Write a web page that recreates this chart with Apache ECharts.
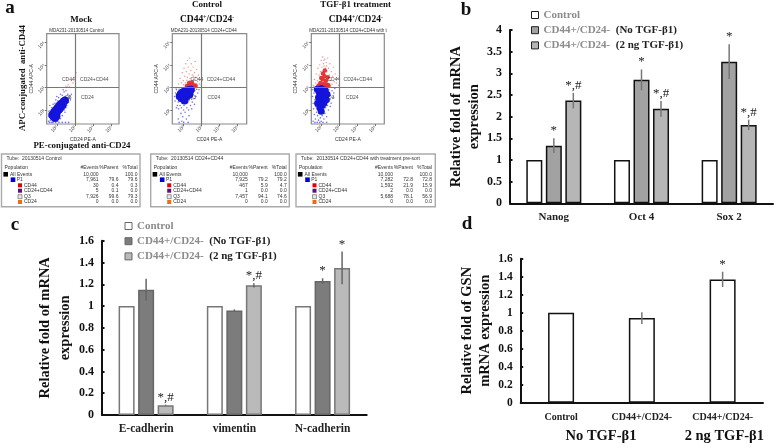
<!DOCTYPE html>
<html>
<head>
<meta charset="utf-8">
<style>
html, body { margin: 0; padding: 0; background: #fff; }
#main { width: 778px; height: 448px; }
</style>
<script src="https://cdn.jsdelivr.net/npm/echarts@6/dist/echarts.min.js"></script>
</head>
<body>
<div id="main"></div>
<script>
// panel b
const stemGenes = ['Nanog', 'Oct 4', 'Sox 2'];
const stemControl = [1, 1, 1];
const stemNoTgf = [1.33, 2.85, 3.27];
const stemTgf = [2.37, 2.18, 1.81];
const stemNoTgfErr = [0.17, 0.24, 0.4];
const stemTgfErr = [0.18, 0.18, 0.12];
const stemNoTgfMark = ['*', '*', '*'];
const stemTgfMark = ['*,#', '*,#', '*,#'];

// panel c
const emtGenes = ['E-cadherin', 'vimentin', 'N-cadherin'];
const emtControl = [1, 1, 1];
const emtNoTgf = [1.15, 0.96, 1.23];
const emtTgf = [0.09, 1.19, 1.35];
const emtNoTgfErr = [0.1, 0.01, 0.025];
const emtTgfErr = [0.005, 0.02, 0.15];
const emtNoTgfMark = ['', '', '*'];
const emtTgfMark = ['*,#', '*,#', '*'];

// panel d
const gsnGroups = ['Control', 'CD44+/CD24-', 'CD44+/CD24-'];
const gsnValues = [1, 0.94, 1.37];
const gsnErr = [0, 0.065, 0.085];
const gsnMark = ['', '', '*'];

const legendNames = ['Control', 'CD44+/CD24-  (No TGF-β1)', 'CD44+/CD24-  (2 ng TGF-β1)'];

// panel a, flow plots, read by eye (log10 units)
const plotTitles = ['MDA231-20130514 Control', 'MDA231-20130514 CD24+CD44', 'MDA231-20130514 CD24+CD44 with t'];
const decades = [2, 3, 4, 5];
const decadeLabels = ['10²', '10³', '10⁴', '10⁵'];
const gateLabels = [
  [[2.63, 3.36, 'CD44'], [4.05, 3.36, 'CD24+CD44'], [2.63, 2.55, 'Q3'], [3.67, 2.55, 'CD24']],
  [[2.74, 3.36, 'CD44'], [4.07, 3.36, 'CD24+CD44'], [2.5, 2.55, 'Q3'], [3.68, 2.55, 'CD24']],
  [[2.7, 3.36, 'CD44'], [4.03, 3.36, 'CD24+CD44'], [2.55, 2.55, 'Q3'], [3.72, 2.55, 'CD24']]
];
const mockCore = [[1.75,1.78],[1.82,1.72],[1.85,1.9],[1.92,1.8],[1.95,2.0],[2.02,1.92],[2.05,2.1],[2.12,2.02],[2.15,2.2],[2.22,2.12],[2.25,2.28],[2.32,2.22],[2.36,2.36],[2.45,2.42],[1.9,1.65],[1.98,1.72]];
const mockSparse = [[1.55,1.5],[1.6,1.7],[1.58,1.95],[1.65,1.55],[1.7,1.45],[1.72,2.1],[1.75,1.6],[1.8,2.25],[1.85,1.48],[1.9,1.55],[1.7,1.85],[1.62,2.2],[1.95,2.45],[2.0,1.6],[2.05,1.5],[2.1,1.7],[2.15,1.8],[2.2,1.62],[2.25,1.9],[1.9,2.3],[2.0,2.6],[2.05,2.4],[2.1,2.55],[2.2,2.7],[2.25,2.5],[2.3,1.95],[2.35,2.05],[2.4,2.0],[2.3,2.65],[2.4,2.8],[2.45,2.6],[2.5,2.1],[2.55,2.2],[2.6,2.7],[2.65,2.35],[2.7,2.55],[2.75,2.45],[2.5,2.85],[2.8,2.7],[2.35,2.9],[2.6,2.5],[2.55,2.4],[2.68,2.62],[2.15,2.35],[1.8,2.05],[1.68,1.62],[2.3,1.75],[2.45,1.9],[1.6,1.45],[1.78,1.45],[1.95,1.45],[2.12,1.45],[2.3,1.45],[2.48,1.45],[2.65,1.45]];
const mockRed = [[2.5,3.05],[2.62,3.12],[2.7,3.02],[2.8,3.3],[2.88,3.2],[2.95,3.45],[3.05,3.65],[2.6,3.02]];

const ctrlCore = [[1.78,2.62],[1.85,2.72],[1.88,2.52],[1.95,2.65],[1.98,2.8],[2.03,2.55],[2.08,2.7],[2.12,2.85],[2.15,2.6],[2.2,2.75],[2.27,2.87],[2.32,2.7],[2.4,2.9],[2.05,2.42]];
const ctrlSparse = [[1.5,2.6],[1.55,2.75],[1.52,2.4],[1.6,2.9],[1.62,2.5],[1.65,2.2],[1.7,2.35],[1.72,2.05],[1.75,2.92],[1.8,2.2],[1.85,1.85],[1.88,2.1],[1.92,2.3],[1.95,1.7],[2.0,2.0],[2.02,2.2],[2.08,1.9],[2.1,2.3],[2.15,1.6],[2.18,2.1],[2.22,2.35],[2.28,2.0],[2.32,2.45],[2.38,2.2],[2.42,2.55],[2.48,2.35],[2.52,2.7],[2.58,2.5],[2.62,2.85],[2.68,2.6],[2.72,2.92],[2.78,2.75],[2.85,2.9],[1.9,1.5],[2.3,1.75],[1.6,2.1],[2.45,2.05],[1.7,1.6],[2.0,1.45],[1.75,1.45],[2.25,1.45],[1.58,2.98],[2.6,2.25]];
const ctrlRedDense = [[2.18,3.06],[2.26,3.03],[2.34,3.1],[2.42,3.05],[2.5,3.12],[2.58,3.04],[2.3,3.2],[2.46,3.22],[2.66,3.08]];
const ctrlRed = [[1.72,3.15],[1.8,3.4],[1.88,3.2],[1.92,3.65],[1.98,3.3],[2.02,3.85],[2.05,3.5],[2.1,3.2],[2.12,4.05],[2.15,3.7],[2.2,3.45],[2.22,4.2],[2.25,3.9],[2.3,3.6],[2.33,4.3],[2.36,3.4],[2.4,3.75],[2.42,4.05],[2.48,3.55],[2.52,3.9],[2.55,3.35],[2.6,3.65],[2.64,4.15],[2.68,3.45],[2.72,3.8],[2.78,3.25],[2.82,3.55],[2.88,3.15],[2.92,3.35],[2.98,3.1],[2.35,3.3],[2.18,3.32],[2.0,3.12],[2.55,3.5],[2.75,3.05]];

const tgfCore = [[1.8,2.3],[1.85,2.55],[1.88,2.8],[1.92,2.1],[1.95,2.4],[1.98,2.65],[2.0,2.95],[2.05,2.2],[2.07,2.5],[2.1,2.75],[2.15,2.3],[2.18,2.58],[2.22,2.88],[2.28,2.45],[2.32,2.7],[2.0,1.95],[1.78,2.92]];
const tgfSparse = [[1.5,2.9],[1.52,2.6],[1.55,2.3],[1.58,2.05],[1.6,2.75],[1.62,1.8],[1.65,2.45],[1.68,1.6],[1.7,2.15],[1.72,2.9],[1.74,1.9],[1.78,1.45],[1.8,1.75],[1.85,1.55],[1.9,1.85],[1.95,1.65],[2.0,1.5],[2.05,1.75],[2.1,1.95],[2.15,1.6],[2.2,1.85],[2.25,2.1],[2.3,1.7],[2.35,2.2],[2.4,2.0],[2.45,2.4],[2.5,2.65],[2.55,2.3],[2.6,2.85],[2.65,2.55],[2.7,2.75],[2.75,2.95],[2.42,2.9],[2.5,2.15],[1.55,1.5],[1.65,1.45],[2.3,1.45],[2.1,1.45],[1.92,1.45]];
const tgfRedDense = [[1.85,3.08],[1.95,3.2],[2.02,3.06],[2.08,3.35],[2.14,3.15],[2.18,3.5],[2.22,3.05],[2.26,3.3],[2.32,3.12],[2.1,3.62],[2.2,3.75],[2.36,3.45],[2.4,3.1],[2.0,3.42]];
const tgfRed = [[1.55,3.1],[1.62,3.35],[1.68,3.2],[1.72,3.6],[1.78,3.3],[1.82,3.85],[1.88,3.55],[1.92,4.0],[1.96,3.7],[2.0,4.2],[2.04,3.9],[2.08,4.35],[2.12,4.05],[2.16,3.95],[2.2,4.25],[2.24,3.85],[2.28,4.1],[2.32,3.7],[2.36,4.3],[2.4,3.85],[2.44,3.55],[2.48,4.05],[2.52,3.3],[2.56,3.7],[2.6,3.15],[2.64,3.5],[2.68,3.9],[2.72,3.25],[2.78,3.6],[2.84,3.2],[2.9,3.4],[2.95,3.1],[1.6,3.05],[1.75,3.08],[2.5,3.05],[2.3,3.95],[2.14,4.2],[1.9,3.25]];

// panel a, statistics tables
const tableTitles = ['Tube:  20130514 Control', 'Tube:  20130514 CD24+CD44', 'Tube:  20130514 CD24+CD44 with treatment pre-sort'];
const tableHeader = ['Population', '#Events', '%Parent', '%Total'];
const rowNames = ['All Events', 'P1', 'CD44', 'CD24+CD44', 'Q3', 'CD24'];
const rowColors = ['#000000', '#0000e0', '#e00000', '#6a0a78', '#e8e8e8', '#f06a10'];
const tableRows = [
  [['10,000', '', '100.0'], ['7,961', '79.6', '79.6'], ['30', '0.4', '0.3'], ['5', '0.1', '0.0'], ['7,926', '99.6', '79.3'], ['0', '0.0', '0.0']],
  [['10,000', '', '100.0'], ['7,925', '79.2', '79.2'], ['467', '5.9', '4.7'], ['1', '0.0', '0.0'], ['7,457', '94.1', '74.6'], ['0', '0.0', '0.0']],
  [['10,000', '', '100.0'], ['7,282', '72.8', '72.8'], ['1,592', '21.9', '15.9'], ['2', '0.0', '0.0'], ['5,688', '78.1', '56.9'], ['0', '0.0', '0.0']]
];

const serif = '"Liberation Serif", "Times New Roman", serif';
const sans = '"Liberation Sans", Arial, sans-serif';
const flowBlue = '#1414dc';
const flowRed = '#e23030';

const grids = [];
const xAxes = [];
const yAxes = [];
const series = [];

// flow cytometry plots, grid 0-2
const flowBoxes = [
  { left: 46.7, width: 72.3, xMin: 1.45, xMax: 5.4, title: 76.7 },
  { left: 172.3, width: 74.4, xMin: 1.37, xMax: 5.5, title: 203.7 },
  { left: 311.3, width: 73, xMin: 1.45, xMax: 5.5, title: 348 }
];
const flowData = [
  { sparse: mockSparse, core: mockCore, red: mockRed, redDense: [] },
  { sparse: ctrlSparse, core: ctrlCore, red: ctrlRed, redDense: ctrlRedDense },
  { sparse: tgfSparse, core: tgfCore, red: tgfRed, redDense: tgfRedDense }
];
flowBoxes.forEach((b, i) => {
  grids.push({ left: b.left, top: 33.7, width: b.width, height: 90.3, show: true, borderColor: '#8a8a8a', borderWidth: 1.2, backgroundColor: '#fff' });
  const flowAxis = (min, max, name, gap) => ({
    type: 'value', gridIndex: i, min: min, max: max, name: name, nameLocation: 'middle', nameGap: gap,
    nameTextStyle: { fontSize: 5, fontFamily: sans, color: '#333' },
    axisLine: { show: false },
    axisTick: { customValues: decades, length: 2, lineStyle: { color: '#555', width: 0.8 } },
    axisLabel: {
      customValues: decades, rotate: 45, fontSize: 5, fontFamily: sans, color: '#444', margin: 2.5,
      formatter: v => decadeLabels[decades.indexOf(v)]
    },
    splitLine: { show: false }
  });
  xAxes.push(flowAxis(b.xMin, b.xMax, 'CD24 PE-A', 8));
  yAxes.push(flowAxis(1.38, 5.38, 'CD44 APC-A', 11));
  const dots = (data, color, size, op) => ({
    type: 'scatter', xAxisIndex: i, yAxisIndex: i, data: data, symbolSize: size, silent: true,
    itemStyle: { color: color, opacity: op }
  });
  const d = flowData[i];
  series.push(dots(d.sparse, flowBlue, 1.6, 0.6));
  series.push(dots(d.red, flowRed, 1.4, 0.55));
  series.push(dots(d.redDense, flowRed, 4.5, 0.95));
  series.push(dots(d.core, flowBlue, i === 2 ? 7 : 8, 1));
  series.push({
    type: 'scatter', xAxisIndex: i, yAxisIndex: i, data: gateLabels[i], symbolSize: 0, silent: true,
    label: { show: true, position: 'inside', formatter: p => p.value[2], fontSize: 5, fontFamily: sans, color: '#222' },
    markLine: {
      silent: true, symbol: 'none', label: { show: false },
      lineStyle: { color: '#777', width: 1.2, type: 'solid' },
      data: [{ xAxis: 3 }, { yAxis: 3 }], animation: false
    }
  });
});

// error bars and significance marks drawn at the bar's offset within its group
function errorSeries(gridIdx, values, errs, marks, offset, color, markSize) {
  return {
    type: 'custom', xAxisIndex: gridIdx, yAxisIndex: gridIdx, z: 5, silent: true, clip: false,
    data: values.map((v, i) => [i, v, errs[i], marks[i]]),
    renderItem: (params, api) => {
      const idx = api.value(0);
      const v = api.value(1);
      const e = api.value(2);
      const top = api.coord([idx, v + e]);
      const bot = api.coord([idx, v - e]);
      const x = top[0] + offset;
      const mark = marks[idx];
      const kids = [];
      if (e > 0) {
        kids.push({ type: 'line', shape: { x1: x, y1: top[1], x2: x, y2: bot[1] }, style: { stroke: color, lineWidth: 1.5 } });
      }
      if (mark) {
        kids.push({ type: 'text', style: { text: mark, x: x, y: top[1] - 1, textAlign: 'center', textVerticalAlign: 'bottom', font: markSize + 'px ' + serif, fill: '#222' } });
      }
      return { type: 'group', children: kids };
    }
  };
}

function barAxes(left, top, width, height, cats, yMax, step, title, gap, nameLine, labelSize, labelMargin, tickSize) {
  const idx = grids.length;
  grids.push({ left: left, top: top, width: width, height: height });
  xAxes.push({
    type: 'category', gridIndex: idx, data: cats,
    axisLine: { lineStyle: { color: '#111', width: 2 } },
    axisTick: { inside: true, length: 2.5, lineStyle: { color: '#111', width: 2 } },
    axisLabel: { interval: 0, fontFamily: serif, fontWeight: 'bold', fontSize: labelSize, color: '#222', margin: labelMargin }
  });
  yAxes.push({
    type: 'value', gridIndex: idx, min: 0, max: yMax, interval: step, name: title, nameLocation: 'middle', nameGap: gap,
    nameTextStyle: { fontFamily: serif, fontWeight: 'bold', fontSize: 14.5, color: '#111', lineHeight: nameLine },
    axisLine: { show: true, lineStyle: { color: '#111', width: 2 } },
    axisTick: { show: true, inside: true, length: 2.5, lineStyle: { color: '#111', width: 2 } },
    axisLabel: { fontFamily: serif, fontWeight: 'bold', fontSize: tickSize, color: '#111', margin: 8 },
    splitLine: { show: false }
  });
  return idx;
}

function barSeries(idx, name, values, fill, border, width) {
  return {
    type: 'bar', name: name, xAxisIndex: idx, yAxisIndex: idx, data: values, barWidth: width, barGap: '22%',
    itemStyle: { color: fill, borderColor: border, borderWidth: 1.5 }, silent: true
  };
}

// panel b
const bIdx = barAxes(510, 30, 263, 173.3, stemGenes, 4, 0.5, 'Relative fold of mRNA\nexpression', 20, 18, 11, 8, 12);
series.push(barSeries(bIdx, legendNames[0], stemControl, '#fff', '#111', 16));
series.push(barSeries(bIdx, legendNames[1], stemNoTgf, '#a2a2a2', '#111', 16));
series.push(barSeries(bIdx, legendNames[2], stemTgf, '#b6b6b6', '#111', 16));
series.push(errorSeries(bIdx, stemNoTgf, stemNoTgfErr, stemNoTgfMark, 0, '#777', 13));
series.push(errorSeries(bIdx, stemTgf, stemTgfErr, stemTgfMark, 19.5, '#777', 13));

// panel c
const cIdx = barAxes(102, 240.7, 264.7, 174.3, emtGenes, 1.6, 0.2, 'Relative fold of mRNA\nexpression', 20, 20, 11.5, 8, 12);
series.push(barSeries(cIdx, legendNames[0], emtControl, '#fff', '#777', 16));
series.push(barSeries(cIdx, legendNames[1], emtNoTgf, '#7c7c7c', '#666', 16));
series.push(barSeries(cIdx, legendNames[2], emtTgf, '#bababa', '#777', 16));
series.push(errorSeries(cIdx, emtNoTgf, emtNoTgfErr, emtNoTgfMark, 0, '#666', 13));
series.push(errorSeries(cIdx, emtTgf, emtTgfErr, emtTgfMark, 19.5, '#666', 13));

// panel d
const dIdx = barAxes(520.7, 258.7, 242.3, 144, gsnGroups, 1.6, 0.2, 'Relative fold of GSN\nmRNA expression', 22, 18, 10, 10, 11.5);
series.push(barSeries(dIdx, 'GSN', gsnValues, '#fff', '#111', 26));
series.push(errorSeries(dIdx, gsnValues, gsnErr, gsnMark, 0, '#777', 13));

function legendFor(left, top, fills, border) {
  return {
    orient: 'vertical', left: left, top: top, padding: 0, itemWidth: 7, itemHeight: 7, itemGap: 4.2, icon: 'rect',
    selectedMode: false,
    data: legendNames.map((n, i) => ({ name: n, itemStyle: { color: fills[i], borderColor: border, borderWidth: 1 } })),
    formatter: n => {
      const cut = n.indexOf('(');
      if (cut < 0) return '{g|' + n + '}';
      return '{g|' + n.slice(0, cut) + '}{k|' + n.slice(cut) + '}';
    },
    textStyle: {
      rich: {
        g: { fontFamily: serif, fontWeight: 'bold', fontSize: 11, color: '#8c8c8c' },
        k: { fontFamily: serif, fontWeight: 'bold', fontSize: 11, color: '#222' }
      }
    }
  };
}

// free text and the three statistics boxes of panel a
const graphic = [];
function txt(x, y, text, font, extra) {
  graphic.push(Object.assign({
    type: 'text', x: x, y: y, silent: true,
    style: Object.assign({ text: text, font: font, fill: '#111', textAlign: 'center', textVerticalAlign: 'middle' }, (extra && extra.style) || {})
  }, extra && extra.rotation ? { rotation: extra.rotation } : {}));
}
const headBold = 'bold 9px ' + serif;
const supRich = {
  n: { fontFamily: serif, fontWeight: 'bold', fontSize: 9.5, color: '#111' },
  s: { fontFamily: serif, fontWeight: 'bold', fontSize: 5.5, color: '#111', verticalAlign: 'top' }
};
const cdHead = '{n|CD44}{s|+}{n|/CD24}{s|-}';
txt(10, 8, 'a', 'bold 19px ' + serif);
txt(466, 10, 'b', 'bold 19px ' + serif);
txt(15, 225, 'c', 'bold 19px ' + serif);
txt(467, 224, 'd', 'bold 19px ' + serif);
txt(81.3, 20, 'Mock', headBold);
txt(207, 4.5, 'Control', headBold);
txt(355.7, 4.5, 'TGF-β1 treatment', headBold);
txt(207, 20, cdHead, headBold, { style: { rich: supRich } });
txt(355.7, 20, cdHead, headBold, { style: { rich: supRich } });
txt(22.7, 78, 'APC-conjugated  anti-CD44', 'bold 8.8px ' + serif, { rotation: Math.PI / 2 });
txt(82, 145.3, 'PE-conjugated anti-CD24', 'bold 8.8px ' + serif);
txt(601, 436.7, 'No TGF-β1', 'bold 14.5px ' + serif);
txt(724.3, 436.7, '2 ng TGF-β1', 'bold 14.5px ' + serif);
plotTitles.forEach((t, i) => {
  txt(flowBoxes[i].title, 31, t, '4.5px ' + sans, { style: { fill: '#333' } });
});

const tableBoxes = [1.5, 150.7, 296];
const tableWidths = [138.5, 138.6, 139.3];
const rowY = [174.3, 179.7, 185.3, 190.7, 196.7, 202];
const rowIndent = [10, 16.7, 24, 24, 24, 24];
const swatchX = [5.7, 13, 20, 20, 20, 20];
const tableFont = '5px ' + sans;
tableBoxes.forEach((x0, t) => {
  graphic.push({ type: 'rect', silent: true, shape: { x: x0, y: 154, width: tableWidths[t], height: 52.7 }, style: { fill: '#fff', stroke: '#aaa', lineWidth: 1.4 } });
  txt(x0 + 5, 159, tableTitles[t], tableFont, { style: { textAlign: 'left', fill: '#333' } });
  txt(x0 + 3, 168, tableHeader[0], tableFont, { style: { textAlign: 'left', fill: '#333' } });
  const colX = [x0 + 97, x0 + 117, x0 + 136];
  colX.forEach((cx, c) => txt(cx, 168, tableHeader[c + 1], tableFont, { style: { textAlign: 'right', fill: '#333' } }));
  rowNames.forEach((name, r) => {
    const sz = r < 2 ? 4.6 : 4;
    graphic.push({ type: 'rect', silent: true, shape: { x: x0 + swatchX[r] - 1.5 - sz / 2, y: rowY[r] - sz / 2, width: sz, height: sz }, style: { fill: rowColors[r], stroke: r === 4 ? '#555' : null, lineWidth: 0.6 } });
    txt(x0 + rowIndent[r] - 1.5, rowY[r], name, tableFont, { style: { textAlign: 'left', fill: '#333' } });
    tableRows[t][r].forEach((cell, c) => txt(colX[c], rowY[r], cell, tableFont, { style: { textAlign: 'right', fill: '#333' } }));
  });
});

const myChart = echarts.init(document.getElementById('main'), null, { renderer: 'canvas' });
myChart.setOption({
  animation: false,
  backgroundColor: '#fff',
  tooltip: { show: false },
  grid: grids,
  xAxis: xAxes,
  yAxis: yAxes,
  legend: [
    legendFor(531, 9.5, ['#fff', '#a2a2a2', '#b6b6b6'], '#222'),
    legendFor(124.5, 220.5, ['#fff', '#7c7c7c', '#bababa'], '#666')
  ],
  graphic: graphic,
  series: series
});
</script>
</body>
</html>
